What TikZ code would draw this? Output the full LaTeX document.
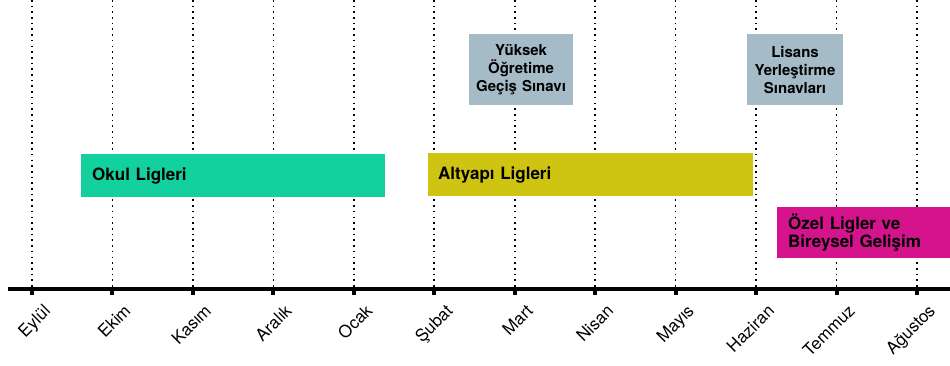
\documentclass[tikz,border=0pt]{standalone}
\usepackage{fontspec}
\setmainfont{TeX Gyre Heros}
\definecolor{okul}{RGB}{19,209,159}
\definecolor{altyapi}{RGB}{208,196,18}
\definecolor{sinav}{RGB}{166,187,200}
\definecolor{ozel}{RGB}{212,19,140}
\begin{document}
\begin{tikzpicture}[x=1pt,y=-1pt,
  dotline/.style={line width=1.6pt, dash pattern=on 1.6pt off 4.1pt},
  axisline/.style={line width=4.3pt},
  tickmark/.style={line width=4pt},
  month/.style={rotate=45, anchor=north east, inner sep=0pt, font=\fontsize{17}{19}\selectfont},
  cbox/.style={draw=none, inner ysep=0pt, anchor=north west, align=left, font=\bfseries\fontsize{17}{18.5}\selectfont},
  gbox/.style={draw=none, fill=sinav, inner sep=0pt, anchor=north west, align=center, minimum height=70.7pt, font=\bfseries\fontsize{15}{18.3}\selectfont}
]
\useasboundingbox (0,0) rectangle (950,366);
\foreach \m [count=\i from 0] in {Eylül,Ekim,Kasım,Aralık,Ocak,Şubat,Mart,Nisan,Mayıs,Haziran,Temmuz,Ağustos} {
  \coordinate (top\i) at ({32+80.45*\i},0);
  \coordinate (t\i) at ({32+80.45*\i},289);
  \coordinate (b\i) at ({32+80.45*\i},294.5);
  \draw[dotline] (top\i) -- (t\i);
  \draw[tickmark] (t\i) -- (b\i);
  \node[month] (m\i) at ([xshift=10.5pt,yshift=-14pt]t\i) {\m};
}
\coordinate (axL) at (8,289);
\coordinate (axR) at (950,289);
\draw[axisline] (axL) -- (axR);

\node[cbox, fill=okul, inner xsep=11pt, text width=282pt, minimum height=42.7pt] (okul) at (81,154) {Okul Ligleri};
\node[cbox, fill=altyapi, inner xsep=10pt, text width=305pt, minimum height=42.7pt] (altyapi) at (428,153) {Altyapı Ligleri};
\node[cbox, fill=ozel, inner xsep=11pt, text width=151pt, minimum height=51.3pt] (ozel) at (777,206.7) {Özel Ligler ve\\Bireysel Gelişim};
\node[gbox, text width=103.7pt] (ygs) at (469,34.3) {Yüksek\\Öğretime\\Geçiş Sınavı};
\node[gbox, text width=95.7pt] (lys) at (747,34.3) {Lisans\\Yerleştirme\\Sınavları};
\end{tikzpicture}
\end{document}
